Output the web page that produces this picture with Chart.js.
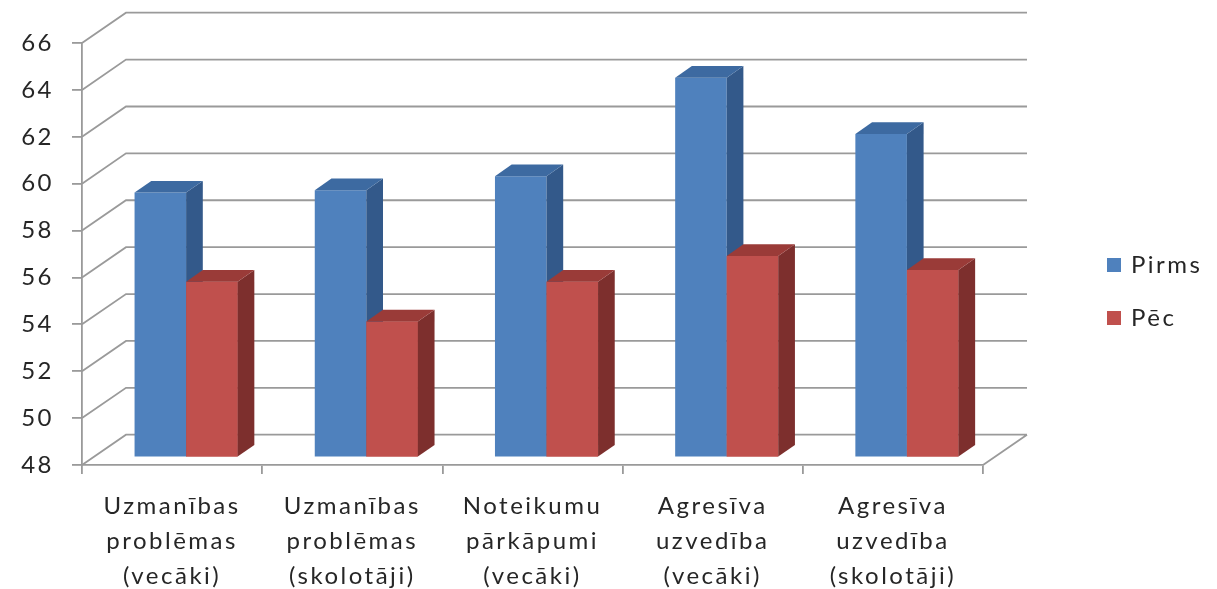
<!DOCTYPE html>
<html><head><meta charset="utf-8">
<script src="https://cdn.jsdelivr.net/npm/chart.js@4.4.0/dist/chart.umd.min.js"></script>
<style>html,body{margin:0;padding:0;background:#fff}canvas{display:block}</style>
</head><body>
<canvas id="c" width="1217" height="589"></canvas>
<script>
// ---- data ----
const categories = [
  ["Uzmanības", "problēmas", "(vecāki)"],
  ["Uzmanības", "problēmas", "(skolotāji)"],
  ["Noteikumu", "pārkāpumi", "(vecāki)"],
  ["Agresīva", "uzvedība", "(vecāki)"],
  ["Agresīva", "uzvedība", "(skolotāji)"]
];
const seriesNames = ["Pirms", "Pēc"];
const pirms = [59.3, 59.4, 60.0, 64.2, 61.8];
const pec = [55.5, 53.8, 55.5, 56.6, 56.0];
const yTicks = [48, 50, 52, 54, 56, 58, 60, 62, 64, 66];

// ---- styling ----
const FRONT = ['#4F81BD', '#C0504D'];
const SIDE = ['#33598A', '#7D2F2D'];
const TOP = ['#3D6AA1', '#9A3B38'];
const GRID = '#9a9a9a';
const TEXT = '#262626';
const FONT = 'Lato';
const SPACING = '2.5px';
const WALL = {dx: 44, dy: -30.3};
const BAR_SHIFT = {dx: 14, dy: -7.5};
const BAR_DEPTH = {dx: 16.7, dy: -11.7};

function drawFaces(ctx, el, i) {
  const {x, y, base, width} = el.getProps(['x', 'y', 'base', 'width'], true);
  const l = x - width / 2, r = x + width / 2;
  ctx.fillStyle = SIDE[i];
  ctx.beginPath();
  ctx.moveTo(r, y); ctx.lineTo(r + BAR_DEPTH.dx, y + BAR_DEPTH.dy);
  ctx.lineTo(r + BAR_DEPTH.dx, base + BAR_DEPTH.dy); ctx.lineTo(r, base);
  ctx.closePath(); ctx.fill();
  ctx.fillStyle = TOP[i];
  ctx.beginPath();
  ctx.moveTo(l, y); ctx.lineTo(r, y);
  ctx.lineTo(r + BAR_DEPTH.dx, y + BAR_DEPTH.dy); ctx.lineTo(l + BAR_DEPTH.dx, y + BAR_DEPTH.dy);
  ctx.closePath(); ctx.fill();
}

const threeD = {
  id: 'threeD',
  beforeLayout(chart) { chart.ctx.letterSpacing = SPACING; },
  beforeDraw(chart) { chart.ctx.letterSpacing = SPACING; },
  beforeDatasetsDraw(chart) {
    const {ctx, chartArea: a, scales: {y}} = chart;
    ctx.save();
    ctx.strokeStyle = GRID;
    ctx.lineWidth = 1.8;
    ctx.beginPath();
    for (const v of yTicks) {
      const py = y.getPixelForValue(v);
      ctx.moveTo(a.left, py);
      ctx.lineTo(a.left + WALL.dx, py + WALL.dy);
      ctx.lineTo(a.right + WALL.dx, py + WALL.dy);
    }
    const pb = y.getPixelForValue(yTicks[0]);
    ctx.moveTo(a.right, pb);
    ctx.lineTo(a.right + WALL.dx, pb + WALL.dy);
    ctx.stroke();
    ctx.restore();
    ctx.save();
    ctx.translate(BAR_SHIFT.dx, BAR_SHIFT.dy);
  },
  afterDatasetsDraw(chart) {
    const ctx = chart.ctx;
    const m0 = chart.getDatasetMeta(0), m1 = chart.getDatasetMeta(1);
    m0.data.forEach((el, j) => {
      drawFaces(ctx, el, 0);
      const r = m1.data[j];
      r.draw(ctx);
      drawFaces(ctx, r, 1);
    });
    ctx.restore();
  },
  afterDraw(chart) {
    const ctx = chart.ctx;
    ctx.save();
    ctx.letterSpacing = SPACING;
    ctx.font = '24px ' + FONT;
    ctx.textBaseline = 'middle';
    ctx.textAlign = 'left';
    const ys = [265, 318];
    seriesNames.forEach((n, k) => {
      ctx.fillStyle = FRONT[k];
      ctx.fillRect(1107, ys[k] - 7, 14, 14);
      ctx.fillStyle = TEXT;
      ctx.fillText(n, 1131, ys[k]);
    });
    ctx.restore();
  }
};

new Chart(document.getElementById('c'), {
  type: 'bar',
  data: {
    labels: categories,
    datasets: [
      {label: seriesNames[0], data: pirms, backgroundColor: FRONT[0], base: 48, clip: false},
      {label: seriesNames[1], data: pec, backgroundColor: FRONT[1], base: 48, clip: false}
    ]
  },
  options: {
    responsive: false,
    animation: false,
    devicePixelRatio: 1,
    barPercentage: 1,
    categoryPercentage: 0.572,
    layout: {padding: {top: 43, right: 234, left: 0, bottom: 0}},
    plugins: {legend: {display: false}, tooltip: {enabled: false}},
    scales: {
      x: {
        afterFit: s => { s.height = 124; },
        grid: {display: true, drawOnChartArea: false, drawTicks: true, tickLength: 9, color: GRID, lineWidth: 1.8},
        border: {display: true, color: GRID, width: 1.8},
        ticks: {color: TEXT, font: {family: FONT, size: 24, lineHeight: 1.45}, padding: 15, maxRotation: 0, autoSkip: false}
      },
      y: {
        min: 48, max: 66,
        afterFit: s => { s.width = 82; },
        afterBuildTicks: s => { s.ticks = yTicks.map(v => ({value: v})); },
        grid: {display: true, drawOnChartArea: false, drawTicks: true, tickLength: 10, color: GRID, lineWidth: 1.8},
        border: {display: true, color: GRID, width: 1.8},
        ticks: {color: TEXT, font: {family: FONT, size: 24}, padding: 18}
      }
    }
  },
  plugins: [threeD]
});
</script>
</body></html>
